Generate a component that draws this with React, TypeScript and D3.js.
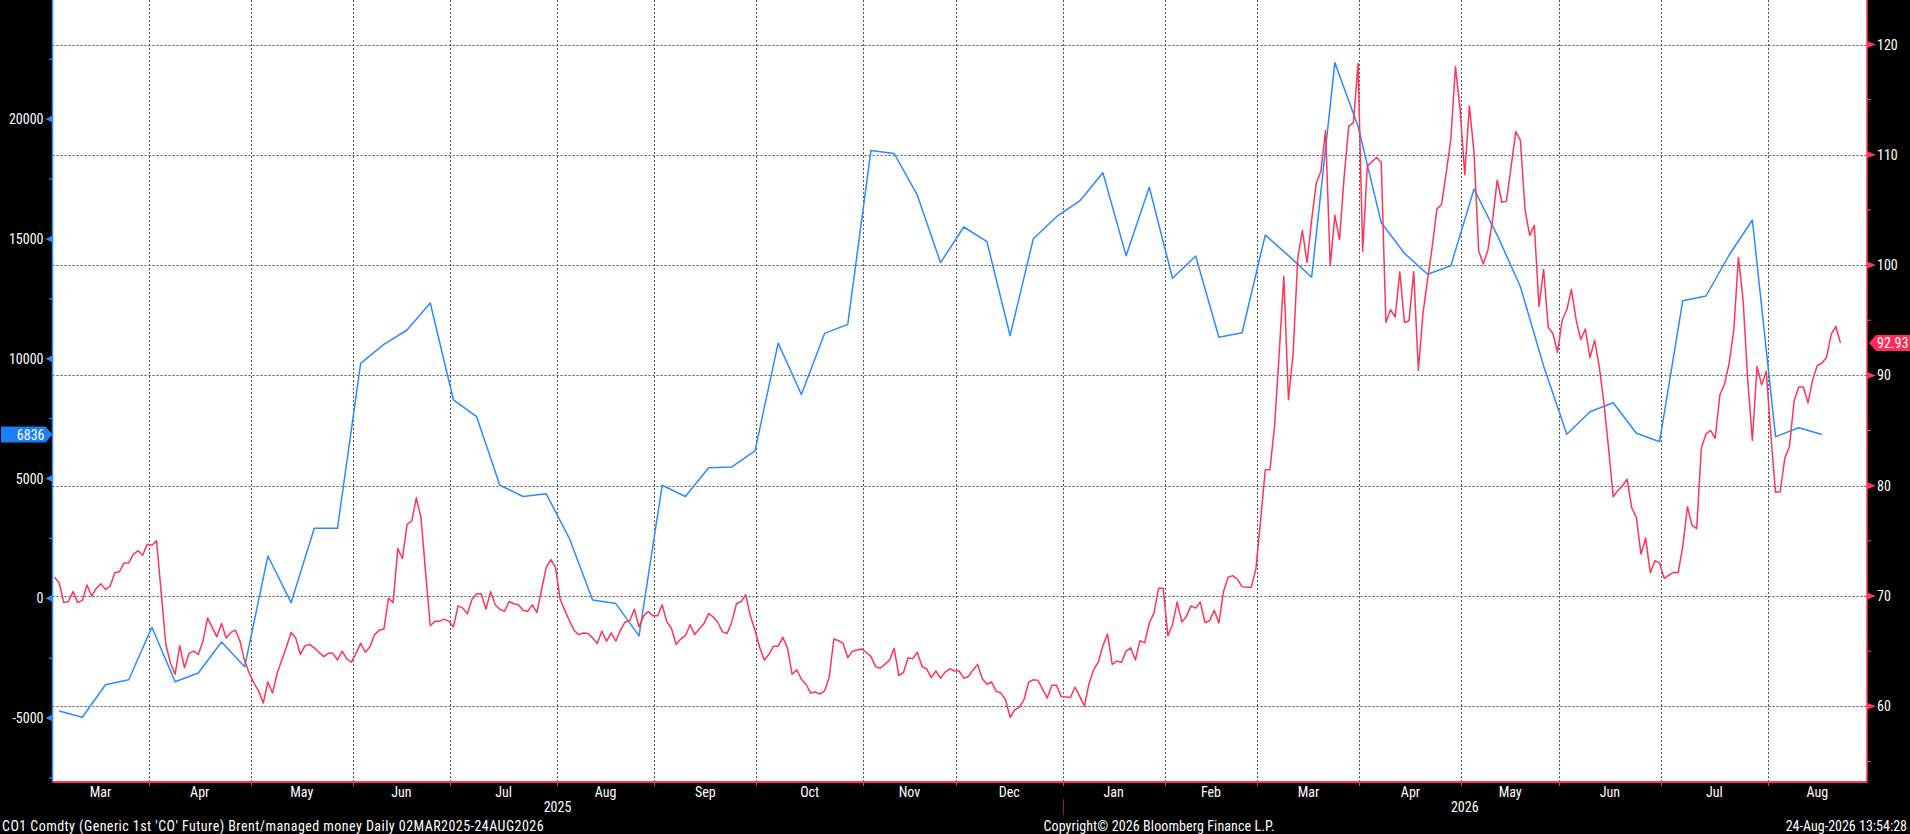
import React, { useEffect } from 'react';
import * as d3 from 'd3';

const W = 1910;
const H = 834;

// calendar of the chart
const firstDay = '2025-03-03';
const lastDay = '2026-08-24';
const exchangeHolidays = ['2025-04-18', '2025-12-25', '2026-01-01', '2026-04-03'];
const firstCotDate = '2025-03-04';

// CO1 Comdty daily close, one value per trading day
const brentClose = [
  71.7, 71.2, 69.4, 69.5, 70.4, 69.4, 69.6, 71.0, 70.0, 70.7,
  71.1, 70.6, 70.9, 72.1, 72.2, 73.0, 73.0, 73.8, 74.1, 73.7,
  74.7, 74.6, 75.0, 70.3, 65.6, 63.9, 62.9, 65.5, 63.5, 64.8,
  65.0, 64.7, 65.9, 68.0, 66.3, 67.5, 66.2, 66.7, 66.9, 65.9,
  64.1, 63.0, 62.1, 61.4, 60.3, 62.2, 61.2, 63.0, 64.2, 65.4,
  66.7, 66.2, 64.7, 65.5, 65.6, 65.3, 64.9, 64.5, 64.8, 64.8,
  64.2, 65.0, 64.3, 64.0, 64.8, 65.7, 64.9, 65.4, 66.5, 66.9,
  67.0, 69.8, 69.4, 74.3, 73.4, 76.5, 76.8, 78.9, 77.1, 72.1,
  67.3, 67.7, 67.7, 67.9, 67.7, 67.2, 69.1, 68.9, 68.4, 69.7,
  70.2, 70.2, 68.8, 70.4, 69.2, 68.8,
  68.6, 69.5, 69.3, 69.2, 68.7, 68.6, 69.2, 68.5, 70.6, 72.6,
  73.3, 72.6, 69.7, 68.7, 67.75, 66.9, 66.5, 66.65, 66.6, 66.2,
  65.7, 66.8, 65.9, 66.65, 65.9, 66.9, 67.65, 67.75, 68.8, 67.2,
  68.2, 68.6, 68.2, 68.2, 69.2, 67.65, 67.05, 65.6, 66.1, 66.4,
  67.4, 66.5, 67.0, 67.5, 68.4, 68.1, 67.6, 66.75, 66.6, 67.65,
  69.3, 69.5, 70.1, 68.2, 66.9, 65.35, 64.2, 64.7, 65.45, 65.45,
  66.25, 65.3, 62.9, 63.3, 62.45, 62.0, 61.2, 61.3, 61.1, 61.4,
  62.6, 66.1, 65.95, 65.7, 64.4, 65.0, 65.1, 65.2, 64.9, 64.5,
  63.6, 63.45, 63.8, 64.2, 65.25, 62.8, 63.05, 64.4, 64.3, 64.9,
  63.6, 63.4, 62.6, 63.2,
  62.55, 63.1, 63.4, 63.2, 63.2, 62.55, 62.7, 63.3, 63.8, 62.5,
  62.0, 62.2, 61.35, 61.2, 60.6, 59.0, 59.7, 59.9, 60.6, 62.2,
  62.4, 62.35, 60.75, 61.9, 61.9, 60.9, 60.8, 61.75, 60.9, 60.0,
  62.05, 63.3, 64.0, 65.5, 66.55, 63.8, 64.1, 64.0, 65.0, 65.3,
  64.2, 65.95, 65.75, 67.55, 68.45, 70.7, 70.7, 66.4, 67.4, 69.45,
  67.65, 68.15, 69.1, 68.9, 69.45, 67.6, 67.75, 68.7, 67.55, 70.4,
  71.7, 71.85, 71.5, 70.85, 70.8, 70.8, 72.5,
  76.9, 81.45, 81.45, 85.4, 92.0, 98.98, 87.8, 92.0, 100.6, 103.15,
  100.25, 104.1, 107.45, 108.5, 112.2, 99.97, 104.5, 102.3, 108.0, 112.6,
  112.9, 118.3, 101.25, 109.0, 109.75, 109.3, 94.8, 95.95, 95.3, 99.4,
  94.8, 94.95, 99.4, 90.45, 95.65, 98.7, 101.7, 105.1, 105.5, 108.35,
  111.4, 118.0, 114.1, 108.2, 114.45, 110.2, 101.3, 100.1, 101.4, 104.1,
  107.7, 105.7, 105.8, 108.95, 112.1, 111.3, 105.0, 102.7, 103.6, 96.25,
  99.6, 94.35, 93.8, 92.1, 95.0, 95.95, 97.8, 95.05, 93.25, 94.2,
  91.6, 93.2, 90.8, 87.5, 83.4, 79.0, 79.55, 80.0, 80.6, 78.0,
  77.1, 73.8, 75.25, 72.1, 73.2, 73.0, 71.6, 71.9, 72.15, 72.1,
  74.5, 78.1, 76.4, 76.1, 83.4, 84.7, 85.0, 84.3, 88.25, 89.2,
  91.1, 94.15, 100.7, 96.85, 89.6, 84.1, 90.8, 89.15, 90.35, 84.5,
  79.4, 79.45, 82.5, 83.55, 87.7, 88.95, 88.95, 87.5, 89.6, 90.9,
  91.1, 91.65, 93.75, 94.45, 92.93,
];

// managed money net position, weekly (Tuesdays)
const managedMoney = [
  -4704, -4967, -3606, -3397, -1211, -3481, -3118, -1824, -2855, 1766,
  -183, 2922, 2922, 9808, 10601, 11198, 12325, 8277, 7580, 4720,
  4249, 4361, 2492, -75, -221, -1569, 4720, 4249, 5451, 5484,
  6152, 10651, 8506, 11056, 11431, 18694, 18564, 16824, 14007, 15497,
  14884, 10960, 15008, 15927,
  16582, 17763, 14300, 17154, 13356, 14286, 10893, 11085, 15163, 14300,
  13398, 22357, 19700, 15677, 14398, 13523, 13881, 17083, 15160, 13004,
  9700, 6845, 7787, 8163, 6887, 6536, 12421, 12617, 14328, 15788,
  6745, 7121, 6836,
];

const positionTicks = [-5000, 0, 5000, 10000, 15000, 20000];
const positionMinorTicks = [-7500, -2500, 2500, 7500, 12500, 17500, 22500];
const priceTicks = [60, 70, 80, 90, 100, 110, 120];
const priceMinorTicks = [55, 65, 75, 85, 95, 105, 115];
const monthNames = ['Jan', 'Feb', 'Mar', 'Apr', 'May', 'Jun', 'Jul', 'Aug', 'Sep', 'Oct', 'Nov', 'Dec'];

const footnote = "CO1 Comdty (Generic 1st 'CO' Future) Brent/managed money Daily 02MAR2025-24AUG2026";
const copyright = 'Copyright\u00a9 2026 Bloomberg Finance L.P.';
const timestamp = '24-Aug-2026 13:54:28';

const BLUE = '#2b8bff';
const RED = '#ff3558';
const GRID = '#555555';
const FONT = "'Liberation Sans Narrow', 'Roboto Condensed', Roboto, sans-serif";

const plot = { left: 52.5, right: 1867, top: 0, bottom: 782 };

const parse = d3.utcParse('%Y-%m-%d');
const fmt = d3.utcFormat('%Y-%m-%d');

export default function App() {
  useEffect(() => {
    document.body.style.margin = '0';
    document.body.style.background = '#000';
  }, []);

  const start = parse(firstDay)!;
  const stop = d3.utcDay.offset(parse(lastDay)!, 1);
  const weekdays = d3.utcDay.range(start, stop).filter(d => d.getUTCDay() % 6 !== 0);
  const dayIndex = new Map(weekdays.map((d, i) => [fmt(d), i] as [string, number]));
  const tradingDays = weekdays.filter(d => !exchangeHolidays.includes(fmt(d)));

  const brent = tradingDays.map((d, i) => ({ i: dayIndex.get(fmt(d))!, v: brentClose[i] }));
  const cotDays = d3.utcTuesday.range(parse(firstCotDate)!, stop);
  const positions = cotDays.map((d, i) => ({ i: dayIndex.get(fmt(d))!, v: managedMoney[i] }));

  const x = d3.scaleLinear().domain([0, weekdays.length - 1]).range([54.5, 1840.5]);
  const yLeft = d3.scaleLinear().domain([-5000, 20000]).range([718.1, 119.1]);
  const yRight = d3.scaleLinear().domain([60, 120]).range([706.3, 44.5]);

  // month boundaries sit just before the first weekday of each month
  const monthStarts = d3.utcMonth.range(d3.utcMonth.ceil(d3.utcDay.offset(start, 1)), stop);
  const boundaries = monthStarts.map(m => {
    const idx = weekdays.findIndex(d => d >= m);
    return { date: m, x: x(idx - 0.7) };
  });
  const edges = [plot.left, ...boundaries.map(b => b.x), plot.right];
  const months = [d3.utcMonth.floor(start), ...monthStarts].map((m, k) => ({
    label: monthNames[m.getUTCMonth()],
    cx: (edges[k] + edges[k + 1]) / 2,
  }));
  const yearBreak = boundaries.find(b => b.date.getUTCMonth() === 0)!;
  const years = [
    { label: '2025', cx: (plot.left + yearBreak.x) / 2 },
    { label: '2026', cx: (yearBreak.x + plot.right) / 2 },
  ];

  const bluePath = d3.line<{ i: number; v: number }>().x(d => x(d.i)).y(d => yLeft(d.v))(positions) ?? '';
  const redPath = d3.line<{ i: number; v: number }>().x(d => x(d.i)).y(d => yRight(d.v))(brent) ?? '';

  const lastPos = positions[positions.length - 1];
  const lastPrice = brent[brent.length - 1];
  const ly = yLeft(lastPos.v);
  const ry = yRight(lastPrice.v);

  return (
    <svg width={W} height={H} style={{ position: 'absolute', left: 0, top: 0, display: 'block' }} fontFamily={FONT}>
      <defs>
        <clipPath id="plot-clip">
          <rect x={plot.left} y={plot.top} width={plot.right - plot.left} height={plot.bottom - plot.top} />
        </clipPath>
      </defs>
      <rect width={W} height={H} fill="#000" />
      <rect x={plot.left} y={plot.top} width={plot.right - plot.left} height={plot.bottom - plot.top} fill="#fff" />

      {/* grid */}
      <g stroke={GRID} strokeWidth={1} strokeDasharray="2,2">
        {priceTicks.map(t => (
          <line key={'h' + t} x1={plot.left} x2={plot.right} y1={Math.round(yRight(t)) + 0.5} y2={Math.round(yRight(t)) + 0.5} />
        ))}
        {boundaries.map(b => (
          <line key={'v' + fmt(b.date)} x1={Math.round(b.x) + 0.5} x2={Math.round(b.x) + 0.5} y1={plot.top} y2={plot.bottom} />
        ))}
      </g>

      <g clipPath="url(#plot-clip)" fill="none" strokeWidth={1.5} strokeLinejoin="round">
        <path d={bluePath} stroke={BLUE} />
        <path d={redPath} stroke={RED} />
      </g>

      {/* left axis */}
      <line x1={plot.left} x2={plot.left} y1={0} y2={plot.bottom} stroke={BLUE} strokeWidth={1.5} />
      {positionMinorTicks.map(t => (
        <line key={t} x1={plot.left - 3.5} x2={plot.left} y1={yLeft(t)} y2={yLeft(t)} stroke={BLUE} strokeWidth={1.2} />
      ))}
      {positionTicks.map(t => (
        <g key={t}>
          <path d={`M${plot.left},${yLeft(t) - 3.5}L${plot.left - 7},${yLeft(t)}L${plot.left},${yLeft(t) + 3.5}Z`} fill={BLUE} />
          <text x={plot.left - 9} y={yLeft(t)} dy="0.36em" textAnchor="end" fill="#fff" fontSize={14}>
            {t}
          </text>
        </g>
      ))}

      {/* right axis */}
      <line x1={plot.right} x2={plot.right} y1={0} y2={plot.bottom} stroke={RED} strokeWidth={1.5} />
      {priceMinorTicks.map(t => (
        <line key={t} x1={plot.right} x2={plot.right + 4} y1={yRight(t)} y2={yRight(t)} stroke={RED} strokeWidth={1.2} />
      ))}
      {priceTicks.map(t => (
        <g key={t}>
          <path d={`M${plot.right},${yRight(t) - 3.5}L${plot.right + 9},${yRight(t)}L${plot.right},${yRight(t) + 3.5}Z`} fill={RED} />
          <text x={plot.right + 10} y={yRight(t)} dy="0.36em" fill="#fff" fontSize={14}>
            {t}
          </text>
        </g>
      ))}

      {/* last value tags */}
      <path d={`M1,${ly - 8}L${plot.left - 7},${ly - 8}L${plot.left},${ly}L${plot.left - 7},${ly + 8}L1,${ly + 8}Z`} fill="#1a7ff5" />
      <text x={plot.left - 8} y={ly} dy="0.36em" textAnchor="end" fill="#fff" fontSize={14}>
        {d3.format('d')(lastPos.v)}
      </text>
      <path d={`M${plot.right + 2},${ry}L${plot.right + 9},${ry - 8}L${W},${ry - 8}L${W},${ry + 8}L${plot.right + 9},${ry + 8}Z`} fill="#ff2d55" />
      <text x={plot.right + 10} y={ry} dy="0.36em" fill="#fff" fontSize={14}>
        {d3.format('.2f')(lastPrice.v)}
      </text>

      {/* time axis */}
      <line x1={plot.left} x2={plot.right} y1={plot.bottom} y2={plot.bottom} stroke={RED} strokeWidth={2} />
      {boundaries.map(b => (
        <line key={'t' + fmt(b.date)} x1={Math.round(b.x) + 0.5} x2={Math.round(b.x) + 0.5} y1={plot.bottom} y2={plot.bottom + 4} stroke={RED} strokeWidth={1} />
      ))}
      <line x1={Math.round(yearBreak.x) + 0.5} x2={Math.round(yearBreak.x) + 0.5} y1={799} y2={815} stroke="#b0102a" strokeWidth={1} />
      {months.map((m, k) => (
        <text key={k} x={m.cx} y={797} textAnchor="middle" fill="#fff" fontSize={14}>
          {m.label}
        </text>
      ))}
      {years.map(yr => (
        <text key={yr.label} x={yr.cx} y={812} textAnchor="middle" fill="#fff" fontSize={14}>
          {yr.label}
        </text>
      ))}

      {/* footer */}
      <text x={2} y={831} fill="#fff" fontSize={14} letterSpacing={0.45}>{footnote}</text>
      <text x={1159} y={831} textAnchor="middle" fill="#fff" fontSize={14} letterSpacing={0.1}>{copyright}</text>
      <text x={W - 3} y={831} textAnchor="end" fill="#fff" fontSize={14}>{timestamp}</text>
    </svg>
  );
}
